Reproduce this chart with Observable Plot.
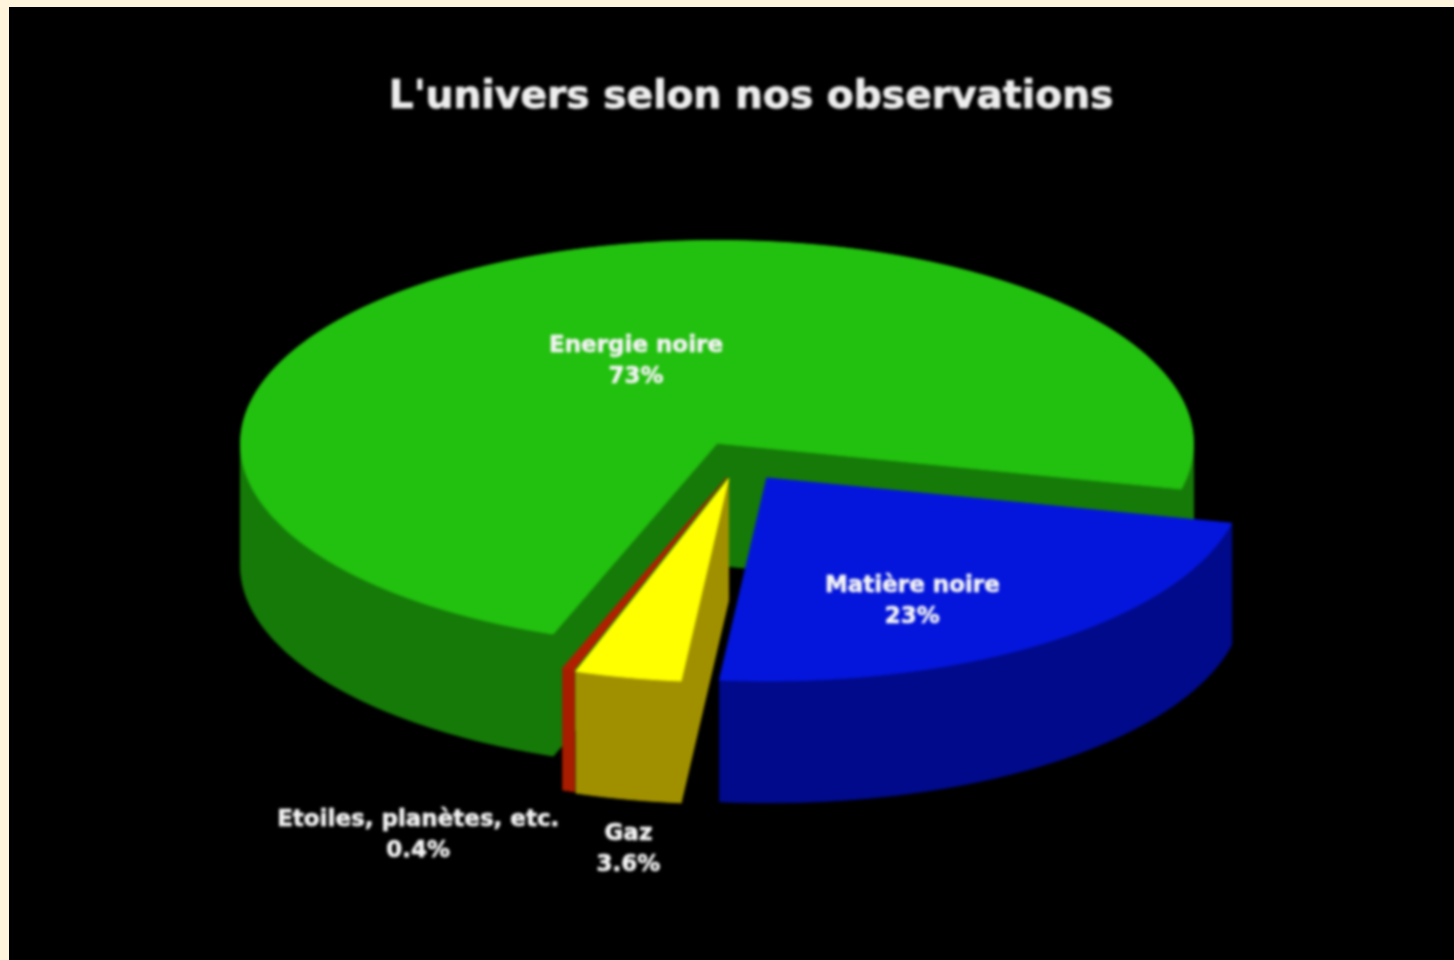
<!DOCTYPE html>
<html><head><meta charset="utf-8">
<script src="https://cdn.jsdelivr.net/npm/d3@7"></script>
<script src="https://cdn.jsdelivr.net/npm/@observablehq/plot@0.6"></script>
<style>
html,body{margin:0;padding:0;background:#fff5dc;overflow:hidden}
#frame{position:absolute;left:9px;top:7px;width:1445px;height:953px;background:#000;overflow:hidden}
#frame svg{display:block;filter:blur(1.4px);background:#000}
</style></head><body><div id="frame"></div>
<script>
const titleText = "L'univers selon nos observations";
const sliceNames = ["Matière noire", "Gaz", "Etoiles, planètes, etc.", "Energie noire"];
const sliceValues = [23, 3.6, 0.4, 73];
const valueLabels = ["23%", "3.6%", "0.4%", "73%"];
const topColors = ["#0416dc", "#ffff00", "#b02000", "#22c00f"];
const sideColors = ["#010a8a", "#a09000", "#a81c00", "#157a08"];
// exploded offset of each slice, in radii of the pie
const explodeX = [0.105, 0.024, 0.02, 0];
const explodeY = [0.16, 0.165, 0.158, -0.01];
const labelX = [0.41, -0.186, -0.627, -0.17];
const labelY = [0.751, 1.973, 1.904, -0.431];
const startAngle = 12.9, depth = 0.6;

const rad = d => d * Math.PI / 180;
let a0 = startAngle;
const slices = sliceNames.map((name, i) => {
  const a1 = a0 + sliceValues[i] * 3.6;
  const s = {name, i, a0, a1, ox: explodeX[i], oy: explodeY[i]};
  a0 = a1;
  return s;
});
const rim = (s, from, to, dy = 0) => {
  const n = Math.max(2, Math.ceil(Math.abs(to - from)));
  return d3.range(n + 1).map(k => {
    const a = rad(from + (to - from) * k / n);
    return {x: s.ox + Math.cos(a), y: s.oy + Math.sin(a) + dy};
  });
};
const poly = [];
const push = (id, color, pts) => pts.forEach(p => poly.push({...p, id, color}));
const outer = (s, from, to) => [...rim(s, from, to), ...rim(s, to, from, depth)];
const radial = (s, a) => {
  const c = {x: s.ox, y: s.oy};
  const e = rim(s, a, a)[0];
  return [c, e, {x: e.x, y: e.y + depth}, {x: c.x, y: c.y + depth}];
};
const top3d = s => [{x: s.ox, y: s.oy}, ...rim(s, s.a0, s.a1)];

const [blue, yellow, red, green] = slices;
push("g-out", sideColors[3], outer(green, green.a0, 180));
push("g-out2", sideColors[3], outer(green, 360, green.a1));
push("g-w1", sideColors[3], radial(green, green.a1));
push("g-w2", sideColors[3], radial(green, green.a0));
push("g-top", topColors[3], top3d(green));
push("r-out", sideColors[2], outer(red, red.a0, red.a1));
push("r-top", topColors[2], top3d(red));
push("y-w", sideColors[1], radial(yellow, yellow.a0));
push("y-out", sideColors[1], outer(yellow, yellow.a0, yellow.a1));
push("y-top", topColors[1], top3d(yellow));
push("b-out", sideColors[0], outer(blue, blue.a0, blue.a1));
push("b-top", topColors[0], top3d(blue));

const labels = slices.map((s, i) => ({x: labelX[i], y: labelY[i], t: s.name + "\n" + valueLabels[i]}));

const chart = Plot.plot({
  width: 1445, height: 953,
  marginTop: 0, marginRight: 0, marginBottom: 0, marginLeft: 0,
  style: {background: "#000", fontFamily: "'DejaVu Sans'"},
  x: {domain: [-1, 1], range: [231, 1184], axis: null},
  y: {domain: [-1, 1], range: [235, 641], axis: null},
  marks: [
    Plot.line(poly, {x: "x", y: "y", z: "id", fill: "color", stroke: "color", strokeWidth: 1, curve: "linear-closed"}),
    Plot.text(labels, {x: "x", y: "y", text: "t", fill: "#f4f4f4", stroke: "#f4f4f4", strokeWidth: 0.6, fontSize: 23, fontWeight: "bold", lineHeight: 1.35, lineAnchor: "middle", textAnchor: "middle"}),
    Plot.text([titleText], {frameAnchor: "top", dy: 73, dx: 19, fill: "#eeeeee", stroke: "#eeeeee", strokeWidth: 0.7, fontSize: 39.2, fontWeight: "bold", lineAnchor: "top"})
  ]
});
document.getElementById("frame").appendChild(chart);
</script></body></html>
